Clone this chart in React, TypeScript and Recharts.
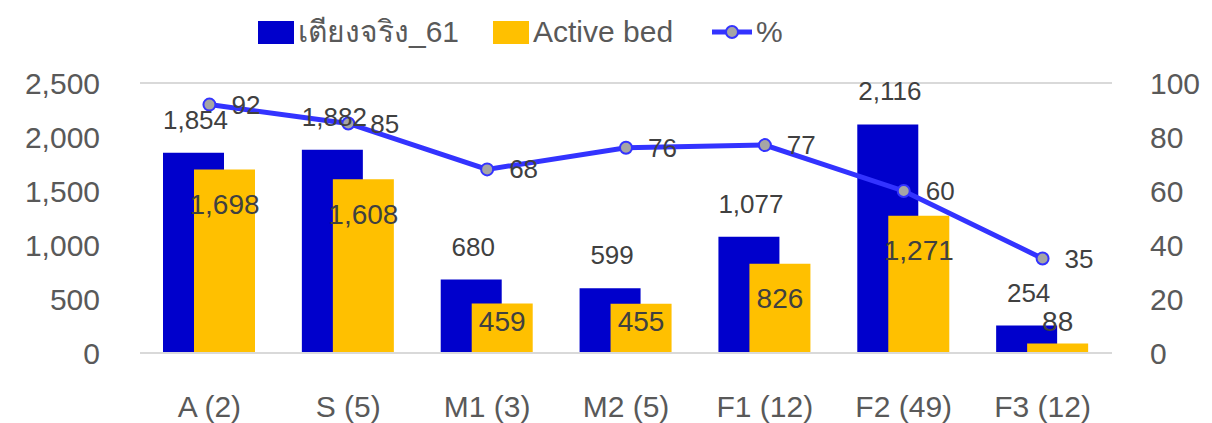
import React from "react";
import {
  ComposedChart,
  Bar,
  Line,
  XAxis,
  YAxis,
  CartesianGrid,
  LabelList,
} from "recharts";

const categories = ["A (2)", "S (5)", "M1 (3)", "M2 (5)", "F1 (12)", "F2 (49)", "F3 (12)"];
const realBeds = [1854, 1882, 680, 599, 1077, 2116, 254];
const activeBeds = [1698, 1608, 459, 455, 826, 1271, 88];
const percent = [92, 85, 68, 76, 77, 60, 35];
const leftTicks = [0, 500, 1000, 1500, 2000, 2500];
const rightTicks = [0, 20, 40, 60, 80, 100];

const FONT = "'Liberation Sans', 'Noto Sans', sans-serif";
const BLUE = "#0000CC";
const YELLOW = "#FFC000";
const LINE = "#3333FF";

const data = categories.map((c, i) => ({
  name: c,
  real: realBeds[i],
  active: activeBeds[i],
  pct: percent[i],
}));

const fmt = (v: number) => v.toLocaleString("en-US");

const RealLabel = (props: any) => {
  const { x, y, width, value } = props;
  return (
    <text
      x={x + width / 2 + 2}
      y={y - 33}
      textAnchor="middle"
      dominantBaseline="central"
      fill="#404040"
      fontSize={26}
      fontFamily={FONT}
    >
      {fmt(value)}
    </text>
  );
};

const ActiveLabel = (props: any) => {
  const { x, y, width, height, value } = props;
  const cy = Math.min(y + 35, y + height - 32);
  return (
    <text
      x={x + width / 2}
      y={cy}
      textAnchor="middle"
      dominantBaseline="central"
      fill="#404040"
      fontSize={28}
      fontFamily={FONT}
    >
      {fmt(value)}
    </text>
  );
};

const PctLabel = (props: any) => {
  const { x, y, value } = props;
  return (
    <text
      x={x + 22}
      y={y}
      textAnchor="start"
      dominantBaseline="central"
      fill="#404040"
      fontSize={26}
      fontFamily={FONT}
    >
      {value}
    </text>
  );
};

const legendText: React.CSSProperties = {
  fontSize: 30,
  color: "#595959",
  fontFamily: FONT,
  marginLeft: 4,
  lineHeight: "30px",
};

const Legend = () => (
  <div
    style={{
      position: "absolute",
      left: 258,
      top: 17,
      display: "flex",
      alignItems: "center",
    }}
  >
    <div style={{ width: 36, height: 23, background: BLUE }} />
    <span style={{ ...legendText, width: 195 }}>เตียงจริง_61</span>
    <div style={{ width: 36, height: 23, background: YELLOW }} />
    <span style={{ ...legendText, width: 179 }}>Active bed</span>
    <svg width={40} height={20}>
      <line x1={0} y1={10} x2={40} y2={10} stroke={LINE} strokeWidth={5} />
      <circle cx={20} cy={10} r={6} fill="#A5A5A5" stroke={LINE} strokeWidth={2} />
    </svg>
    <span style={legendText}>%</span>
  </div>
);

export default function App() {
  return (
    <div style={{ position: "absolute", left: 0, top: 0, width: 1212, height: 423, background: "#fff" }}>
      <Legend />
      <ComposedChart
        width={1212}
        height={423}
        data={data}
        margin={{ top: 83, right: 0, bottom: 0, left: 0 }}
        barGap={-30}
      >
        <CartesianGrid vertical={false} stroke="#D9D9D9" strokeWidth={2} />
        <XAxis
          dataKey="name"
          height={70}
          tickLine={false}
          axisLine={{ stroke: "#D9D9D9", strokeWidth: 2 }}
          tickMargin={37}
          tick={{ fill: "#595959", fontSize: 30, fontFamily: FONT }}
        />
        <YAxis
          yAxisId="left"
          width={140}
          domain={[0, 2500]}
          ticks={leftTicks}
          tickFormatter={fmt}
          axisLine={false}
          tickLine={false}
          tickSize={0}
          tickMargin={40}
          tick={{ fill: "#595959", fontSize: 30, fontFamily: FONT }}
        />
        <YAxis
          yAxisId="right"
          orientation="right"
          width={100}
          domain={[0, 100]}
          ticks={rightTicks}
          axisLine={false}
          tickLine={false}
          tickSize={0}
          tickMargin={38}
          tick={{ fill: "#595959", fontSize: 30, fontFamily: FONT }}
        />
        <Bar yAxisId="left" dataKey="real" fill={BLUE} barSize={61} isAnimationActive={false}>
          <LabelList dataKey="real" content={RealLabel} />
        </Bar>
        <Bar yAxisId="left" dataKey="active" fill={YELLOW} barSize={61} isAnimationActive={false}>
          <LabelList dataKey="active" content={ActiveLabel} />
        </Bar>
        <Line
          yAxisId="right"
          dataKey="pct"
          stroke={LINE}
          strokeWidth={5}
          dot={{ r: 6, fill: "#A5A5A5", stroke: LINE, strokeWidth: 2 }}
          isAnimationActive={false}
        >
          <LabelList dataKey="pct" content={PctLabel} />
        </Line>
      </ComposedChart>
    </div>
  );
}
